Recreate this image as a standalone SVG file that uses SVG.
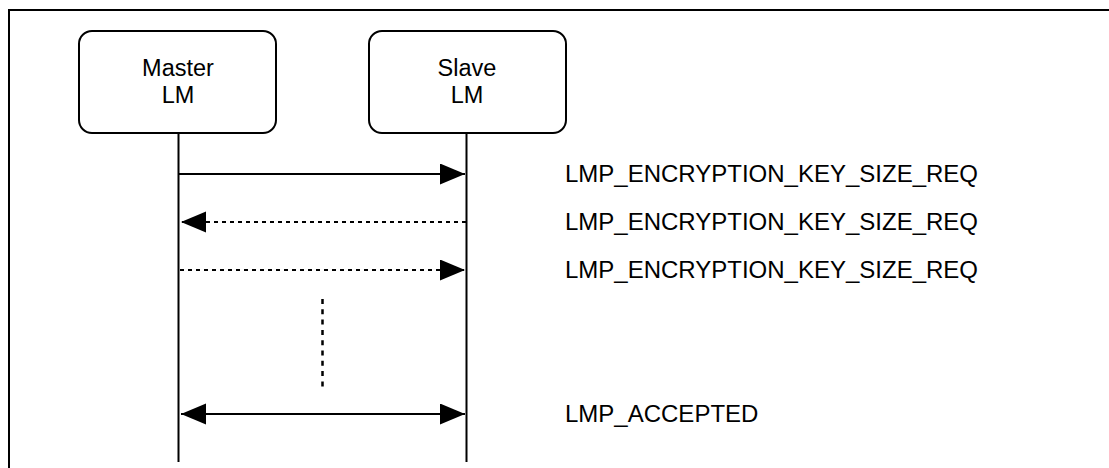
<svg xmlns="http://www.w3.org/2000/svg" width="1109" height="468" viewBox="0 0 1109 468">
  <style>
    .frame { fill: none; stroke: #000; stroke-width: 2; }
    .box { fill: #fff; stroke: #000; stroke-width: 2; }
    .life { stroke: #000; stroke-width: 2; fill: none; }
    .msg { stroke: #000; stroke-width: 2; fill: none; }
    .dash { stroke-dasharray: 4 4; }
    .dots { stroke: #000; stroke-width: 2.5; stroke-dasharray: 5 5.3; fill: none; }
    .lbl { font-family: "Liberation Sans", Arial, sans-serif; font-size: 24px; fill: #000; }
    .nodelbl { font-family: "Liberation Sans", Arial, sans-serif; font-size: 23.5px; fill: #000; text-anchor: middle; }
  </style>
  <defs>
    <marker id="ah" markerUnits="userSpaceOnUse" markerWidth="26" markerHeight="22" refX="25" refY="10.5" orient="auto-start-reverse" viewBox="0 0 26 22">
      <path d="M0,0 L25,10.5 L0,21 z" fill="#000"/>
    </marker>
  </defs>
  <rect width="1109" height="468" fill="#fff"/>
  <path class="frame" d="M9,468 V10 H1109"/>
  <g id="master">
    <rect class="box" x="79" y="31" width="197" height="102" rx="13"/>
    <text class="nodelbl" x="178" y="76">Master</text>
    <text class="nodelbl" x="178" y="103">LM</text>
  </g>
  <g id="slave">
    <rect class="box" x="369" y="31" width="197" height="102" rx="13"/>
    <text class="nodelbl" x="467" y="76">Slave</text>
    <text class="nodelbl" x="467" y="103">LM</text>
  </g>
  <g id="connectors">
    <line class="life" x1="178.5" y1="133" x2="178.5" y2="462"/>
    <line class="life" x1="466.5" y1="133" x2="466.5" y2="462"/>
    <line class="msg" x1="179" y1="174" x2="465" y2="174" marker-end="url(#ah)"/>
    <line class="msg dash" x1="466" y1="222" x2="181" y2="222" marker-end="url(#ah)"/>
    <line class="msg dash" x1="180" y1="270" x2="465" y2="270" marker-end="url(#ah)"/>
    <line class="dots" x1="322.5" y1="299" x2="322.5" y2="391"/>
    <line class="msg" x1="181" y1="414" x2="465" y2="414" marker-start="url(#ah)" marker-end="url(#ah)"/>
  </g>
  <g id="labels">
    <text class="lbl" x="565" y="182">LMP_ENCRYPTION_KEY_SIZE_REQ</text>
    <text class="lbl" x="565" y="230">LMP_ENCRYPTION_KEY_SIZE_REQ</text>
    <text class="lbl" x="565" y="278">LMP_ENCRYPTION_KEY_SIZE_REQ</text>
    <text class="lbl" x="565" y="422">LMP_ACCEPTED</text>
  </g>
</svg>
